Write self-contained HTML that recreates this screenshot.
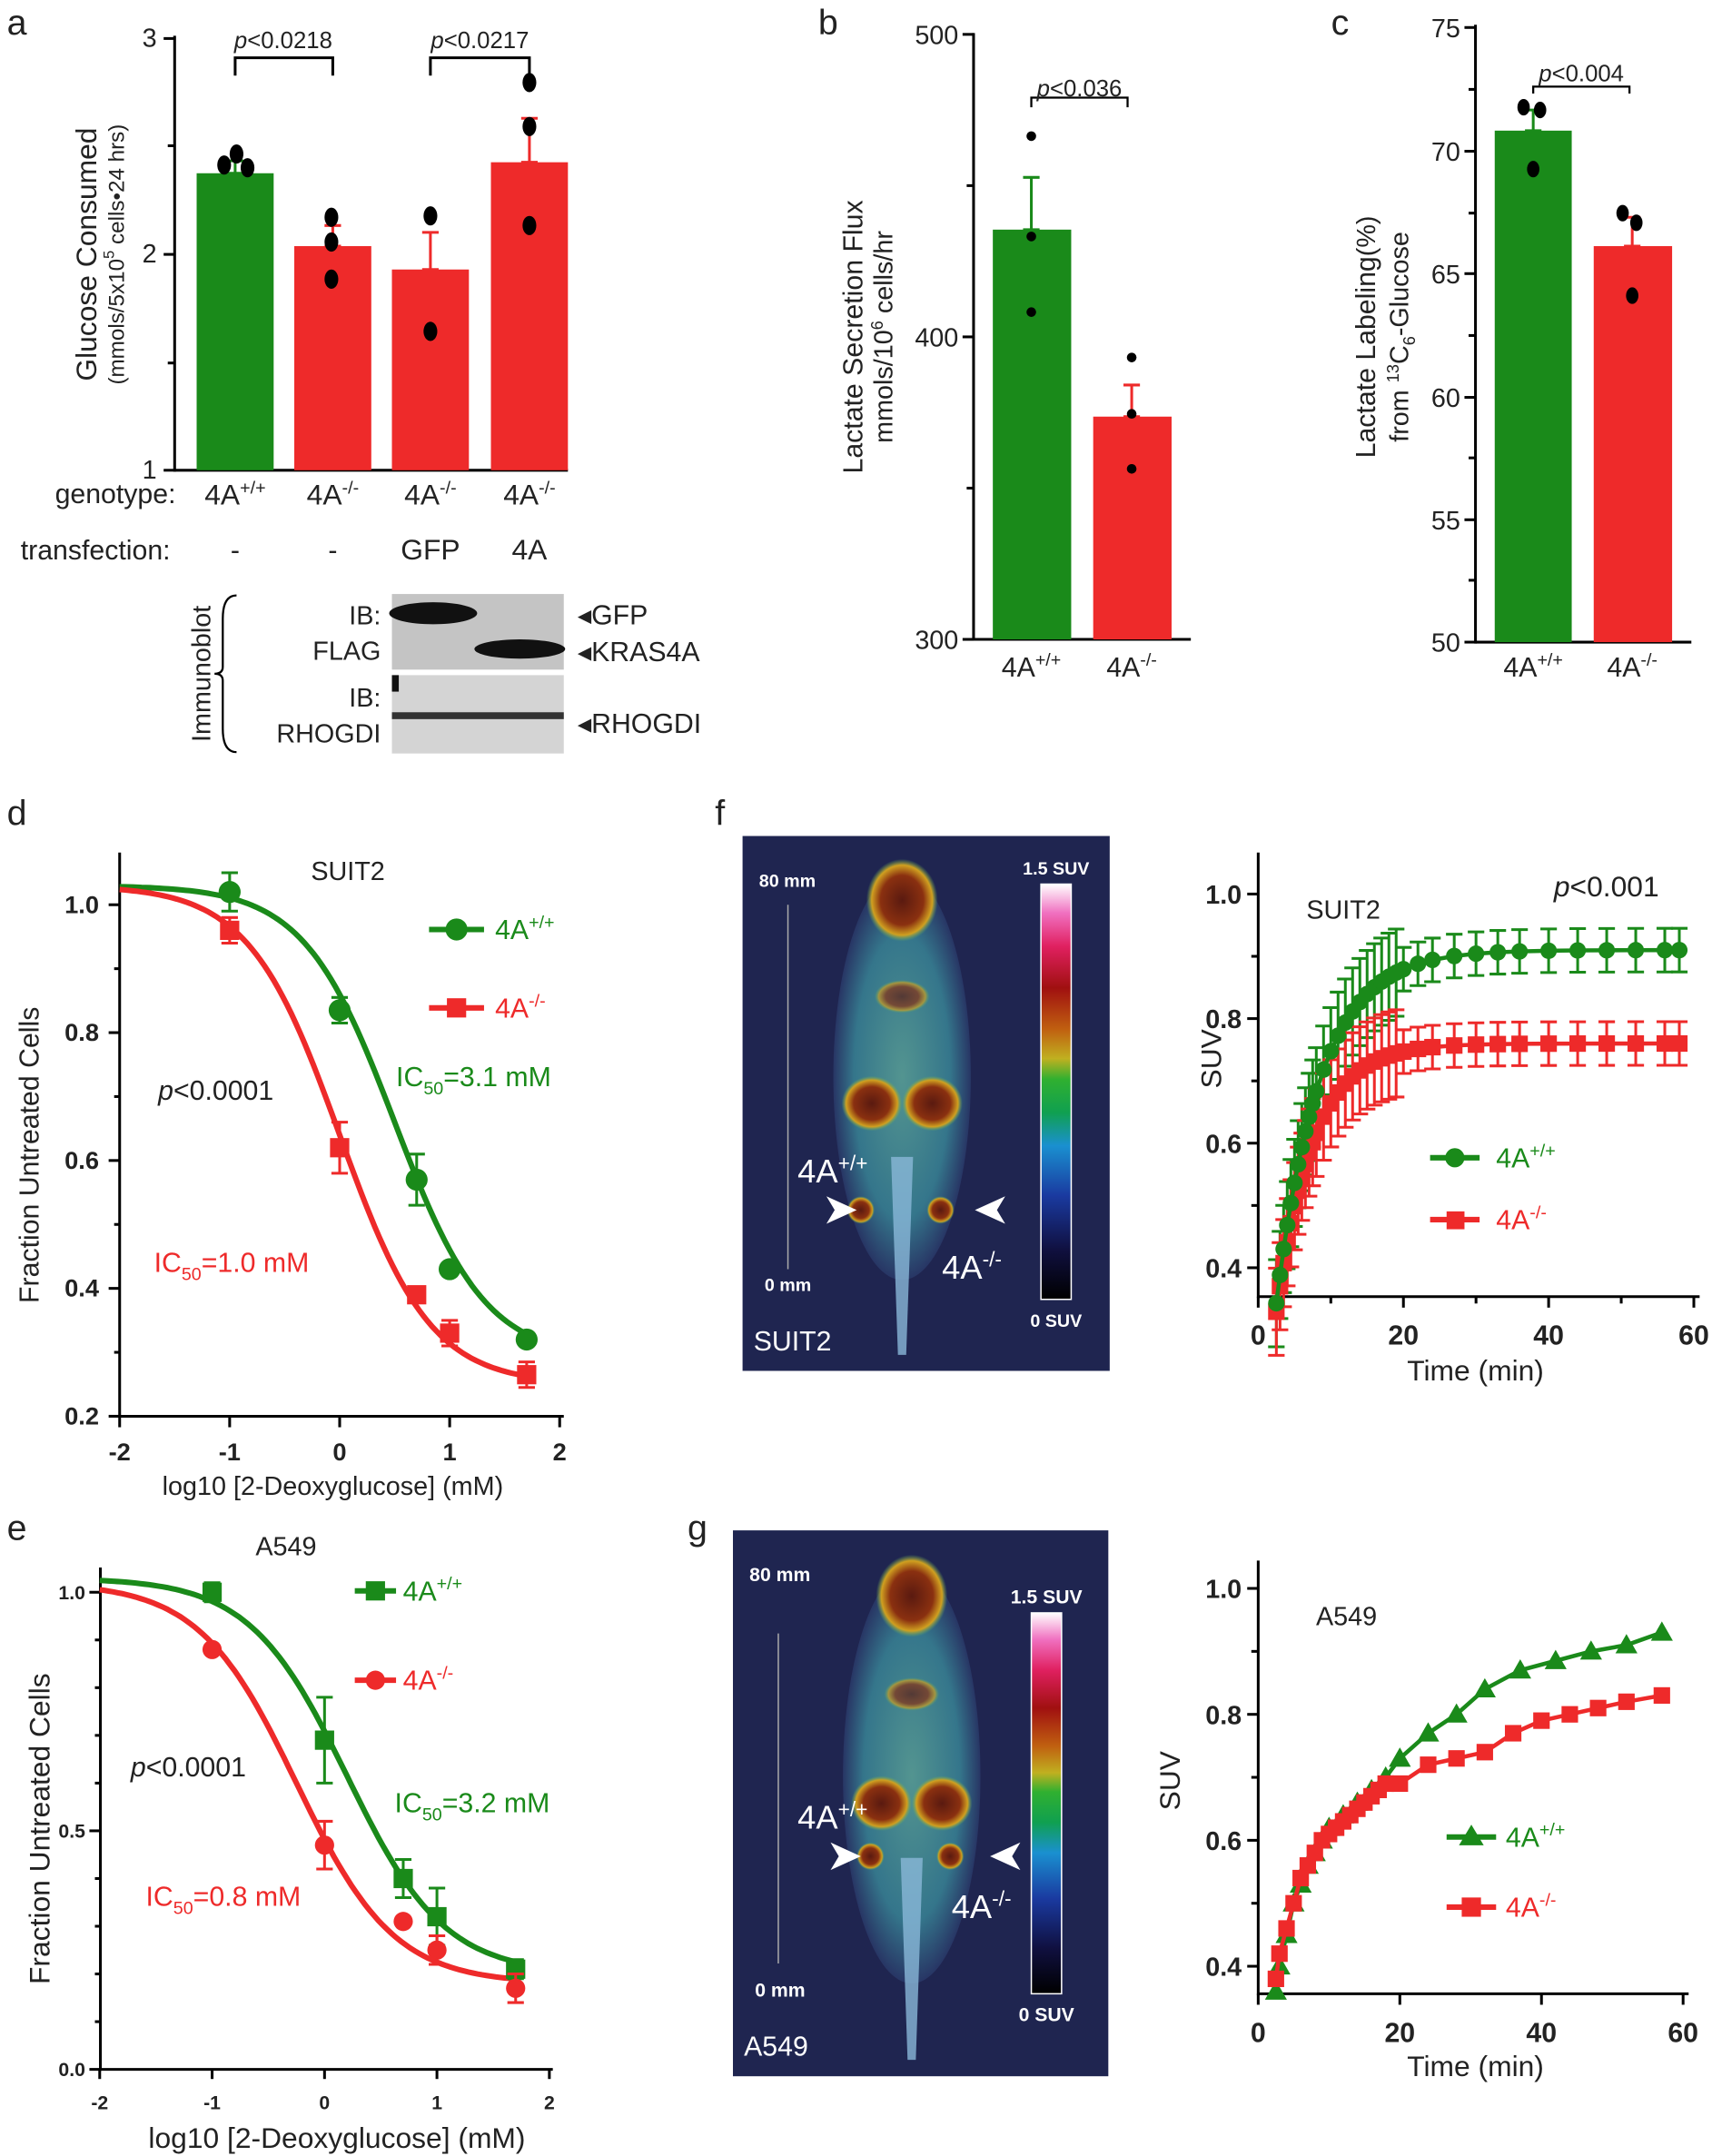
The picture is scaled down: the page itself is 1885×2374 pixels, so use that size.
<!DOCTYPE html>
<html><head><meta charset="utf-8"><style>
html,body{margin:0;padding:0;background:#fff;}
svg{display:block;font-family:"Liberation Sans",Arial,sans-serif;}
</style></head><body>
<svg id="s" width="1885" height="2374" viewBox="0 0 1245 1568" xmlns="http://www.w3.org/2000/svg">
<defs>
<linearGradient id="cb" x1="0" y1="1" x2="0" y2="0">
<stop offset="0" stop-color="#000"/><stop offset="0.12" stop-color="#101040"/><stop offset="0.25" stop-color="#1a3aa0"/><stop offset="0.37" stop-color="#1a90d0"/><stop offset="0.45" stop-color="#10a050"/><stop offset="0.53" stop-color="#30b030"/><stop offset="0.58" stop-color="#c0b020"/><stop offset="0.65" stop-color="#c06010"/><stop offset="0.75" stop-color="#a01010"/><stop offset="0.85" stop-color="#e02060"/><stop offset="0.93" stop-color="#f070c0"/><stop offset="1" stop-color="#fff"/>
</linearGradient>
<radialGradient id="body" cx="0.5" cy="0.5" r="0.5"><stop offset="0" stop-color="#60b0a0"/><stop offset="0.7" stop-color="#3a8a9a"/><stop offset="1" stop-color="#2a3a6a"/></radialGradient>
<radialGradient id="hot" cx="0.5" cy="0.5" r="0.5"><stop offset="0" stop-color="#5a1a10"/><stop offset="0.6" stop-color="#8a3010"/><stop offset="0.85" stop-color="#d0a020"/><stop offset="1" stop-color="#60b060" stop-opacity="0"/></radialGradient>
</defs>
<g id="g"></g>
</svg>
<script>
const G=document.getElementById('g');let h='';
const GR='#1a8a1a',RD='#ee2a2a';
function t(x,y,s,fs,opt){opt=opt||{};h+=`<text x="${x}" y="${y}" font-size="${fs}" fill="${opt.c||'#222'}" text-anchor="${opt.a||'start'}" ${opt.tr?`transform="${opt.tr}"`:''} ${opt.b?'font-weight="bold"':''} ${opt.i?'font-style="italic"':''}>${s}</text>`;}
function l(x1,y1,x2,y2,c,w){h+=`<line x1="${x1}" y1="${y1}" x2="${x2}" y2="${y2}" stroke="${c||'#000'}" stroke-width="${w||2}"/>`;}
function r(x,y,w,hh,c){h+=`<rect x="${x}" y="${y}" width="${w}" height="${hh}" fill="${c}"/>`;}
function c(x,y,rr,col){h+=`<circle cx="${x}" cy="${y}" r="${rr}" fill="${col||'#000'}"/>`;}
function p(d,col,w){h+=`<path d="${d}" fill="none" stroke="${col}" stroke-width="${w||3}"/>`;}
function eb(x,y1,y2,col){l(x,y1,x,y2,col,2);l(x-6,y1,x+6,y1,col,2);l(x-6,y2,x+6,y2,col,2);}
t(5,25,'a',26);t(595,25,'b',26);t(968,25,'c',26);t(5,600,'d',26);t(5,1120,'e',26);t(520,600,'f',26);t(500,1120,'g',26);
// ===== a
l(127,26,127,343);l(127,342,413,342);
[[28,'3'],[185,'2'],[342,'1']].forEach(([y,s])=>{l(119,y,127,y);t(114,y+6,s,19,{a:'end'});});
[106,264].forEach(y=>l(122,y,127,y));
r(143,126,56,216,GR);r(214,179,56,163,RD);r(285,196,56,146,RD);r(357,118,56,224,RD);
eb(171,117,126,GR);eb(242,164,179,RD);eb(313,169,196,RD);eb(385,86,118,RD);
[[163,120],[172,112],[180,122],[241,158],[241,176],[241,203],[313,157],[313,241],[385,60],[385,92],[385,164]].forEach(([x,y])=>h+=`<ellipse cx="${x}" cy="${y}" rx="5" ry="7"/>`);
p('M171,55 V42 H242 V55','#000',2);p('M313,55 V42 H385 V55','#000',2);
t(206,35,'<tspan font-style="italic">p</tspan>&lt;0.0218',17,{a:'middle'});t(349,35,'<tspan font-style="italic">p</tspan>&lt;0.0217',17,{a:'middle'});
t(70,185,'Glucose Consumed',21,{a:'middle',tr:'rotate(-90 70 185)'});
t(90,185,'(mmols/5x10<tspan font-size="11" dy="-7">5</tspan><tspan dy="7"> cells•24 hrs)</tspan>',16,{a:'middle',tr:'rotate(-90 90 185)'});
t(40,366,'genotype:',20);
[[171,'+/+'],[242,'-/-'],[313,'-/-'],[385,'-/-']].forEach(([x,s])=>t(x,367,`4A<tspan font-size="13" dy="-8">${s}</tspan>`,21,{a:'middle'}));
t(15,407,'transfection:',20);t(171,407,'-',20,{a:'middle'});t(242,407,'-',20,{a:'middle'});t(313,407,'GFP',21,{a:'middle'});t(385,407,'4A',21,{a:'middle'});
r(285,432,125,55,'#c4c4c4');r(285,491,125,57,'#d4d4d4');
h+=`<ellipse cx="315" cy="446" rx="32" ry="8" fill="#111"/><ellipse cx="378" cy="472" rx="33" ry="7" fill="#111"/>`;
r(285,518,125,5,'#333');r(285,491,5,12,'#111');
t(277,454,'IB:',19,{a:'end'});t(277,480,'FLAG',19,{a:'end'});t(277,514,'IB:',19,{a:'end'});t(277,540,'RHOGDI',19,{a:'end'});
t(420,454,'◂GFP',20);t(420,481,'◂KRAS4A',20);t(420,533,'◂RHOGDI',20);
t(153,490,'Immunoblot',19,{a:'middle',tr:'rotate(-90 153 490)'});
p('M172,433 Q162,433 162,450 V485 Q162,490 156,490 Q162,490 162,495 V530 Q162,547 172,547','#000',1.5);
// ===== b
l(708,24,708,466);l(708,465,866,465);
[[25,'500'],[245,'400'],[465,'300']].forEach(([y,s])=>{l(700,y,708,y);t(697,y+7,s,19,{a:'end'});});
[135,355].forEach(y=>l(703,y,708,y));
r(722,167,57,298,GR);r(795,303,57,162,RD);eb(750,129,167,GR);eb(823,280,303,RD);
[[750,99],[750,172],[750,227],[823,260],[823,301],[823,341]].forEach(([x,y])=>c(x,y,3.5));
p('M750,78 V71 H820 V78','#000',1.5);t(785,70,'<tspan font-style="italic">p</tspan>&lt;0.036',17,{a:'middle'});
t(750,492,'4A<tspan font-size="13" dy="-8">+/+</tspan>',20,{a:'middle'});t(823,492,'4A<tspan font-size="13" dy="-8">-/-</tspan>',20,{a:'middle'});
t(627,245,'Lactate Secretion Flux',20,{a:'middle',tr:'rotate(-90 627 245)'});
t(649,245,'mmols/10<tspan font-size="12" dy="-7">6</tspan><tspan dy="7"> cells/hr</tspan>',19,{a:'middle',tr:'rotate(-90 649 245)'});
// ===== c
l(1073,18,1073,468);l(1073,467,1230,467);
[[20,'75'],[110,'70'],[199,'65'],[289,'60'],[378,'55'],[467,'50']].forEach(([y,s])=>{l(1065,y,1073,y);t(1062,y+7,s,19,{a:'end'});});
[65,155,244,333,422].forEach(y=>l(1068,y,1073,y));
r(1087,95,56,372,GR);r(1159,179,57,288,RD);eb(1115,80,95,GR);eb(1187,158,179,RD);
[[1108,78],[1120,80],[1115,123],[1180,155],[1190,162],[1187,215]].forEach(([x,y])=>h+=`<ellipse cx="${x}" cy="${y}" rx="4.5" ry="6"/>`);
p('M1115,68 V63 H1185 V68','#000',1.5);t(1150,59,'<tspan font-style="italic">p</tspan>&lt;0.004',17,{a:'middle'});
t(1115,492,'4A<tspan font-size="13" dy="-8">+/+</tspan>',20,{a:'middle'});t(1187,492,'4A<tspan font-size="13" dy="-8">-/-</tspan>',20,{a:'middle'});
t(1000,245,'Lactate Labeling<tspan font-size="19">(%)</tspan>',20,{a:'middle',tr:'rotate(-90 1000 245)'});
t(1024,245,'from <tspan font-size="12" dy="-7">13</tspan><tspan dy="7">C</tspan><tspan font-size="12" dy="5">6</tspan><tspan dy="-5">-Glucose</tspan>',19,{a:'middle',tr:'rotate(-90 1024 245)'});
// ===== d
function sig(x,b,tp,ic,hl){return b+(tp-b)/(1+Math.pow(10,(x-ic)*hl));}
function curve(X,Y,b,tp,ic,hl,col){let d='';for(let x=-2;x<=1.72;x+=0.04){d+=(d?'L':'M')+X(x).toFixed(1)+','+Y(sig(x,b,tp,ic,hl)).toFixed(1);}p(d,col,4);}
{const X=x=>247+80*x,Y=v=>1030-(v-0.2)*465;
l(87,620,87,1031);l(87,1030,410,1030);
[1.0,0.8,0.6,0.4,0.2].forEach(v=>{l(79,Y(v),87,Y(v));t(72,Y(v)+6,v.toFixed(1),18,{a:'end',b:1});});
[0.9,0.7,0.5,0.3].forEach(v=>l(83,Y(v),87,Y(v)));
[-2,-1,0,1,2].forEach(v=>{l(X(v),1030,X(v),1038);t(X(v),1062,String(v),18,{a:'middle',b:1});});
curve(X,Y,0.29,1.03,0.5,1.05,GR);curve(X,Y,0.25,1.03,0.0,1.05,RD);
[[-1,1.02,0.03],[0,0.835,0.02],[0.7,0.57,0.04],[1,0.43,0],[1.7,0.32,0]].forEach(([x,v,e])=>{if(e)eb(X(x),Y(v+e),Y(v-e),GR);c(X(x),Y(v),8,GR);});
[[-1,0.96,0.02],[0,0.62,0.04],[0.7,0.39,0.01],[1,0.33,0.02],[1.7,0.265,0.02]].forEach(([x,v,e])=>{if(e)eb(X(x),Y(v+e),Y(v-e),RD);r(X(x)-7,Y(v)-7,14,14,RD);});
t(253,640,'SUIT2',19,{a:'middle'});
l(312,676,352,676,GR,4);c(332,676,8,GR);t(360,683,'4A<tspan font-size="13" dy="-8">+/+</tspan>',20,{c:GR});
l(312,733,352,733,RD,4);r(325,726,14,14,RD);t(360,740,'4A<tspan font-size="13" dy="-8">-/-</tspan>',20,{c:RD});
t(115,800,'<tspan font-style="italic">p</tspan>&lt;0.0001',20);
t(288,790,'IC<tspan font-size="13" dy="6">50</tspan><tspan dy="-6">=3.1 mM</tspan>',20,{c:GR});
t(112,925,'IC<tspan font-size="13" dy="6">50</tspan><tspan dy="-6">=1.0 mM</tspan>',20,{c:RD});
t(28,840,'Fraction Untreated Cells',20,{a:'middle',tr:'rotate(-90 28 840)'});
t(242,1087,'log10 [2-Deoxyglucose] (mM)',19,{a:'middle'});}
// ===== e
{const X=x=>236+81.75*x,Y=v=>1505-v*347;
l(73,1140,73,1506);l(73,1505,402,1505);
[[1,'1.0'],[0.5,'0.5'],[0,'0.0']].forEach(([v,s])=>{l(65,Y(v),73,Y(v));t(62,Y(v)+5,s,14,{a:'end',b:1});});
[0.9,0.8,0.7,0.6,0.4,0.3,0.2,0.1].forEach(v=>l(69,Y(v),73,Y(v)));
[-2,-1,0,1,2].forEach(v=>{l(X(v),1505,X(v),1512);t(X(v),1534,String(v),14,{a:'middle',b:1});});
curve(X,Y,0.2,1.03,0.2,1.0,GR);curve(X,Y,0.18,1.02,-0.25,1.0,RD);
[[-1,1.0,0.02],[0,0.69,0.09],[0.7,0.4,0.04],[1,0.32,0.06],[1.7,0.21,0.02]].forEach(([x,v,e])=>{if(e)eb(X(x),Y(v+e),Y(v-e),GR);r(X(x)-7,Y(v)-7,14,14,GR);});
[[-1,0.88,0],[0,0.47,0.05],[0.7,0.31,0],[1,0.25,0.03],[1.7,0.17,0.03]].forEach(([x,v,e])=>{if(e)eb(X(x),Y(v+e),Y(v-e),RD);c(X(x),Y(v),7,RD);});
t(208,1131,'A549',19,{a:'middle'});
l(258,1157,288,1157,GR,4);r(266,1150,14,14,GR);t(293,1164,'4A<tspan font-size="13" dy="-8">+/+</tspan>',20,{c:GR});
l(258,1222,288,1222,RD,4);c(273,1222,7,RD);t(293,1229,'4A<tspan font-size="13" dy="-8">-/-</tspan>',20,{c:RD});
t(95,1292,'<tspan font-style="italic">p</tspan>&lt;0.0001',20);
t(287,1318,'IC<tspan font-size="13" dy="6">50</tspan><tspan dy="-6">=3.2 mM</tspan>',20,{c:GR});
t(106,1386,'IC<tspan font-size="13" dy="6">50</tspan><tspan dy="-6">=0.8 mM</tspan>',20,{c:RD});
t(36,1330,'Fraction Untreated Cells',21,{a:'middle',tr:'rotate(-90 36 1330)'});
t(245,1562,'log10 [2-Deoxyglucose] (mM)',21,{a:'middle'});}
// ===== mouse images
function mouse(x0,y0,w,hh,cx,label,s80,s0,cbx,cby1,cby2,lx1,ly1,lx2,ly2,ax1,ay,ax2){
r(x0,y0,w,hh,'#1f2550');
h+=`<ellipse cx="${cx}" cy="${y0+hh*0.45}" rx="50" ry="${hh*0.38}" fill="url(#body)" opacity="0.8"/>`;
h+=`<ellipse cx="${cx}" cy="${y0+hh*0.12}" rx="26" ry="30" fill="url(#hot)"/>`;
h+=`<ellipse cx="${cx}" cy="${y0+hh*0.3}" rx="20" ry="12" fill="url(#hot)" opacity="0.7"/>`;
h+=`<ellipse cx="${cx-22}" cy="${y0+hh*0.5}" rx="22" ry="20" fill="url(#hot)"/><ellipse cx="${cx+22}" cy="${y0+hh*0.5}" rx="22" ry="20" fill="url(#hot)"/>`;
h+=`<ellipse cx="${cx-30}" cy="${ay}" rx="10" ry="10" fill="url(#hot)"/><ellipse cx="${cx+28}" cy="${ay}" rx="10" ry="10" fill="url(#hot)"/>`;
h+=`<path d="M${cx-8},${y0+hh*0.6} L${cx+8},${y0+hh*0.6} L${cx+3},${y0+hh*0.97} L${cx-3},${y0+hh*0.97}Z" fill="#8ab8d8" opacity="0.8"/>`;
r(cbx,cby1,22,cby2-cby1,'url(#cb)');h+=`<rect x="${cbx}" y="${cby1}" width="22" height="${cby2-cby1}" fill="none" stroke="#fff" stroke-width="1"/>`;
l(x0+33,cby1+15,x0+33,cby2-22,'#aaa',1);
t(x0+12,y0+37,'80 mm',s80,{c:'#fff',b:1});t(x0+16,y0+hh-58,'0 mm',s80,{c:'#fff',b:1});
t(cbx+11,cby1-7,'1.5 SUV',s80,{c:'#fff',b:1,a:'middle'});t(cbx+11,cby2+20,'0 SUV',s80,{c:'#fff',b:1,a:'middle'});
t(x0+8,y0+hh-15,label,20,{c:'#fff'});
t(lx1,ly1,'4A<tspan font-size="15" dy="-9">+/+</tspan>',24,{c:'#fff'});t(lx2,ly2,'4A<tspan font-size="15" dy="-9">-/-</tspan>',24,{c:'#fff'});
h+=`<polygon points="${ax1},${ay-10} ${ax1+22},${ay} ${ax1},${ay+10} ${ax1+6},${ay}" fill="#fff"/>`;
h+=`<polygon points="${ax2},${ay-10} ${ax2-22},${ay} ${ax2},${ay+10} ${ax2-6},${ay}" fill="#fff"/>`;}
mouse(540,608,267,389,656,'SUIT2',13,0,757,643,945,580,860,685,930,601,880,731);
mouse(533,1113,273,397,663,'A549',14,0,750,1173,1450,580,1330,692,1395,604,1350,742);
// ===== f plot
function kin(X,Y,pts,col,mk){let d='';pts.forEach(([tt,v],i)=>d+=(i?'L':'M')+X(tt)+','+Y(v));p(d,col,3);
pts.forEach(([tt,v])=>{if(mk=='c')c(X(tt),Y(v),6,col);else if(mk=='s')r(X(tt)-6,Y(v)-6,12,12,col);else h+=`<polygon points="${X(tt)},${Y(v)-8} ${X(tt)+8},${Y(v)+6} ${X(tt)-8},${Y(v)+6}" fill="${col}"/>`;});}
function tc(a,tau,v0){const arr=[];const ts=[2,2.5,3,3.5,4,4.5,5,5.5,6,6.5,7,7.5,8,9,10,11,12,13,14,15,16,17,18,19,20,22,24,27,30,33,36,40,44,48,52,56,58];ts.forEach(tt=>arr.push([tt,v0+(a-v0)*(1-Math.exp(-tt/tau))]));return arr;}
{const X=tt=>915+5.28*tt,Y=v=>922-(v-0.4)*453;
l(915,620,915,944);l(915,943,1236,943);
[1.0,0.8,0.6,0.4].forEach(v=>{l(907,Y(v),915,Y(v));t(903,Y(v)+7,v.toFixed(1),19,{a:'end',b:1});});
[0.9,0.7,0.5].forEach(v=>l(910,Y(v),915,Y(v)));
[0,20,40,60].forEach(v=>{l(X(v),943,X(v),951);t(X(v),978,String(v),20,{a:'middle',b:1});});
[10,30,50].forEach(v=>l(X(v),943,X(v),948));
const gp=tc(0.91,6,0.05).filter(q=>q[0]>=2.5),rp=tc(0.76,5,0.05).filter(q=>q[0]>=2.5);
gp.forEach(([tt,v])=>{const e=tt<20?0.07:0.035;eb(X(tt),Y(v+e),Y(v-e),GR);});rp.forEach(([tt,v])=>{const e=tt<20?0.07:0.035;eb(X(tt),Y(v+e),Y(v-e),RD);});
kin(X,Y,rp,RD,'s');kin(X,Y,gp,GR,'c');
t(950,668,'SUIT2',19);t(1130,652,'<tspan font-style="italic">p</tspan>&lt;0.001',21);
l(1040,842,1076,842,GR,4);c(1058,842,7,GR);t(1088,849,'4A<tspan font-size="13" dy="-8">+/+</tspan>',20,{c:GR});
l(1040,887,1076,887,RD,4);r(1052,881,13,13,RD);t(1088,894,'4A<tspan font-size="13" dy="-8">-/-</tspan>',20,{c:RD});
t(888,770,'SUV',21,{a:'middle',tr:'rotate(-90 888 770)'});t(1073,1004,'Time (min)',21,{a:'middle'});}
// ===== g plot
{const X=tt=>915+5.15*tt,Y=v=>1430-(v-0.4)*458;
l(915,1135,915,1451);l(915,1450,1228,1450);
[1.0,0.8,0.6,0.4].forEach(v=>{l(907,Y(v),915,Y(v));t(903,Y(v)+7,v.toFixed(1),19,{a:'end',b:1});});
[0.9,0.7,0.5].forEach(v=>l(910,Y(v),915,Y(v)));
[0,20,40,60].forEach(v=>{l(X(v),1450,X(v),1458);t(X(v),1485,String(v),20,{a:'middle',b:1});});
const gp=[[2.5,0.36],[3,0.4],[4,0.45],[5,0.5],[6,0.53],[7,0.56],[8,0.58],[9,0.6],[10,0.62],[12,0.64],[14,0.66],[16,0.68],[18,0.7],[20,0.73],[24,0.77],[28,0.8],[32,0.84],[37,0.87],[42,0.885],[47,0.9],[52,0.91],[57,0.93]];
const rp=[[2.5,0.38],[3,0.42],[4,0.46],[5,0.5],[6,0.54],[7,0.56],[8,0.58],[9,0.6],[10,0.61],[11,0.62],[12,0.63],[13,0.64],[14,0.65],[15,0.66],[16,0.67],[17,0.68],[18,0.69],[20,0.69],[24,0.72],[28,0.73],[32,0.74],[36,0.77],[40,0.79],[44,0.8],[48,0.81],[52,0.82],[57,0.83]];
kin(X,Y,gp,GR,'t');kin(X,Y,rp,RD,'s');
t(957,1182,'A549',19);
l(1052,1336,1088,1336,GR,4);h+=`<polygon points="1070,1327 1079,1342 1061,1342" fill="${GR}"/>`;t(1095,1343,'4A<tspan font-size="13" dy="-8">+/+</tspan>',20,{c:GR});
l(1052,1387,1088,1387,RD,4);r(1063,1380,14,14,RD);t(1095,1394,'4A<tspan font-size="13" dy="-8">-/-</tspan>',20,{c:RD});
t(858,1295,'SUV',21,{a:'middle',tr:'rotate(-90 858 1295)'});t(1073,1510,'Time (min)',21,{a:'middle'});}
G.innerHTML=h;
</script>
</body></html>
